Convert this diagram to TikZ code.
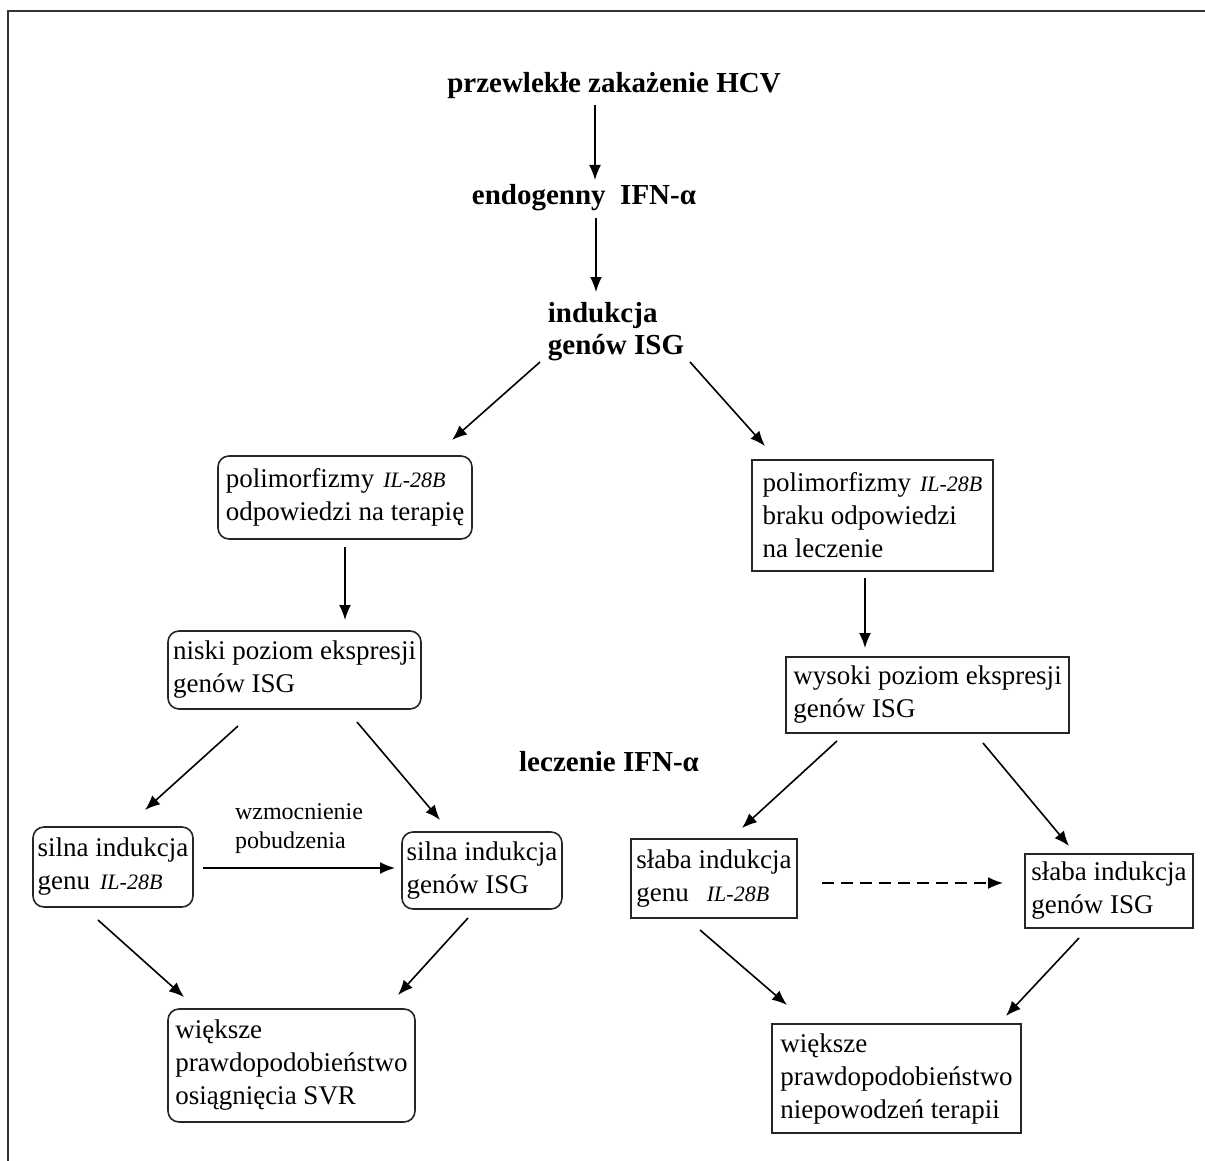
\documentclass[tikz,border=0pt]{standalone}
\usepackage{fontspec}
\setmainfont{Liberation Serif}
\usetikzlibrary{arrows.meta,calc}
\newcommand{\ilgen}{{\fontsize{22}{22}\selectfont\itshape IL-28B}}

\begin{document}
\begin{tikzpicture}[x=1pt,y=-1pt,
    title/.style={font=\fontsize{29}{32}\selectfont\bfseries, inner sep=0pt, align=left},
    rbox/.style={draw=black!85, line width=1.6pt, rounded corners=11pt, align=left,
        inner xsep=4pt, inner ysep=0pt, font=\fontsize{27}{33}\selectfont},
    sbox/.style={rbox, rounded corners=0pt},
    bx/.style 2 args={minimum width=#1, minimum height=#2},
    arr/.style={line width=1.6pt, -{Latex[length=15pt,width=12pt]}}]
    \useasboundingbox (0,0) rectangle (1205,1161);
    \draw[line width=1.6pt, black!80] (8,1161) -- (8,11) -- (1205,11); % ramka

    % naglowki
    \node[title] (hcv) at (614,86) {przewlekłe zakażenie HCV};
    \node[title] (ifn) at (584,198) {endogenny\ \ IFN-α};
    \node[title] (isg) at (616,332) {indukcja\\genów ISG};
    \node[title] (lecz) at (609,762) {leczenie IFN-α};

    % lewa galaz
    \node[rbox, bx={254}{83}] (L1) at (345,497.5) {polimorfizmy\hspace{9pt}\ilgen\\odpowiedzi na terapię};
    \node[rbox, bx={253}{78}] (L2) at (294.5,670) {niski poziom ekspresji\\genów ISG};
    \node[rbox, bx={160}{80}] (L3) at (113,867) {silna indukcja\\genu\hspace{10pt}\ilgen};
    \node[rbox, bx={160}{77}] (L4) at (482,870.5) {silna indukcja\\genów ISG};
    \node[rbox, bx={247}{113}] (L5) at (291.5,1065.5) {większe\\prawdopodobieństwo\\osiągnięcia SVR};

    % prawa galaz
    \node[sbox, bx={241}{111}] (R1) at (872.5,515.5) {polimorfizmy\hspace{9pt}\ilgen\\braku odpowiedzi\\na leczenie};
    \node[sbox, bx={283}{76}] (R2) at (927.5,695) {wysoki poziom ekspresji\\genów ISG};
    \node[sbox, bx={166}{79}] (R3) at (714,878.5) {słaba indukcja\\genu\hspace{18pt}\ilgen};
    \node[sbox, bx={168}{74}] (R4) at (1109,891) {słaba indukcja\\genów ISG};
    \node[sbox, bx={249}{109}] (R5) at (896.5,1078.5) {większe\\prawdopodobieństwo\\niepowodzeń terapii};

    % strzalki
    \draw[arr] ($(hcv)+(-19,19)$) -- ($(ifn)+(11,-18)$);
    \draw[arr] ($(ifn)+(12,20)$) -- ($(isg)+(-20,-40)$);
    \draw[arr] ($(isg)+(-76,30)$) -- ($(L1)+(107,-57.5)$);
    \draw[arr] ($(isg)+(74,30)$) -- ($(R1)+(-107.5,-69.5)$);
    \draw[arr] ($(L1)+(0,49.5)$) -- ($(L2)+(50.5,-50)$);
    \draw[arr] ($(R1)+(-7.5,62.5)$) -- ($(R2)+(-62.5,-47)$);
    \draw[arr] ($(L2)+(-56.5,56)$) -- ($(L3)+(32,-57)$);
    \draw[arr] ($(L2)+(62.5,52)$) -- ($(L4)+(-42,-50.5)$);
    \draw[arr] ($(L3)+(90,1)$) -- ($(L4)+(-87,-2.5)$)
        node[midway, above=10pt, align=left, font=\fontsize{24}{29}\selectfont] (wzm) {wzmocnienie\\pobudzenia};
    \draw[arr] ($(R2)+(-90.5,46)$) -- ($(R3)+(28,-50.5)$);
    \draw[arr] ($(R2)+(55.5,48)$) -- ($(R4)+(-40,-45)$);
    \draw[arr, dash pattern=on 12pt off 7pt] ($(R3)+(108,4.5)$) -- ($(R4)+(-106,-8)$);
    \draw[arr] ($(L3)+(-15,53)$) -- ($(L5)+(-107.5,-68.5)$);
    \draw[arr] ($(L4)+(-14,47.5)$) -- ($(L5)+(106.5,-70.5)$);
    \draw[arr] ($(R3)+(-14,51.5)$) -- ($(R5)+(-109.5,-73.5)$);
    \draw[arr] ($(R4)+(-30,47)$) -- ($(R5)+(109.5,-62.5)$);
\end{tikzpicture}
\end{document}
